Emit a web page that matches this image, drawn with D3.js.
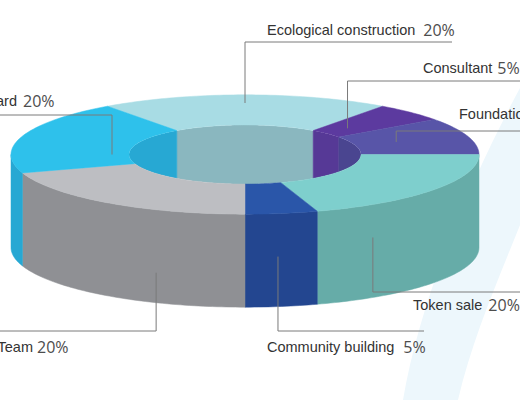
<!DOCTYPE html>
<html lang="en">
  <head>
    <meta charset="UTF-8" />
    <title>Token distribution</title>
    <script src="https://cdn.jsdelivr.net/npm/d3@7/dist/d3.min.js"></script>
    <style>
      html, body { margin: 0; padding: 0; background: #fff; overflow: hidden; }
      .label { font-family: "Liberation Sans", Arial, sans-serif; font-size: 14.5px; fill: #333; }
      .pct { font-family: "Open Sans", sans-serif; font-size: 16px; fill: #4d4d4d; }
      .leader { fill: none; stroke: #7a7a7a; stroke-width: 1; }
    </style>
  </head>
  <body>
    <script>
      // data, clockwise from the top-left seam
      const categories = ["Ecological construction", "Consultant", "Foundation", "Token sale", "Community building", "Team", "Reward"];
      const shares = [20, 5, 10, 20, 5, 20, 20];
      const topColors = ["#a8dce4", "#5c3a9f", "#5855a8", "#7ecfcd", "#2a56a9", "#bdbec2", "#2ec1eb"];
      const sideColors = ["#8ab7bf", "#563996", "#4a4590", "#66aca8", "#234690", "#8f9094", "#27a8d3"];

      const width = 520;
      const height = 400;

      // donut geometry
      const cx = 245;
      const cy = 154.5;
      const outerR = 234;
      const innerR = 116;
      const tilt = 0.255;
      const depth = 93;

      // label layout: where the leader starts inside the slice, where it bends, where text sits
      const layout = [
        { t: 0.5, r: 202, z: 0, bendY: 42, endX: 452, tx: 267, ty: 35, gap: 8, side: "right" },
        { t: 0.5, r: 145, z: 0, bendY: 81, endX: 530, tx: 423, ty: 73, gap: 5, side: "right" },
        { t: 0.5, r: 159, z: 0, bendY: 131, endX: 530, tx: 459, ty: 119, gap: 6, side: "right" },
        { t: 0.79, r: outerR, z: 33, bendY: 292, endX: 530, tx: 413, ty: 310, gap: 6, side: "right" },
        { t: 0.55, r: outerR, z: 43, bendY: 331, endX: 424, tx: 267, ty: 352, gap: 9, side: "right" },
        { t: 0.31, r: outerR, z: 63, bendY: 331, endX: -10, tx: 33, ty: 352, gap: 4, side: "left" },
        { t: 0.25, r: 133, z: 0, bendY: 115, endX: -10, tx: 17, ty: 106, gap: 6, side: "left" },
      ];

      const svg = d3
        .select("body")
        .append("svg")
        .attr("width", width)
        .attr("height", height);

      // faint swoosh in the background
      svg
        .append("path")
        .attr("d", "M403,400 C420,300 468,185 520,88 L520,225 C496,285 472,340 458,400 Z")
        .attr("fill", "#edf7fc");

      const pie = d3
        .pie()
        .sort(null)
        .value((d) => d)
        .startAngle(-0.2 * Math.PI)
        .endAngle(1.8 * Math.PI);

      const arcs = pie(shares).map((d, i) => ({ ...d, i }));

      // angle is clockwise from the top, like d3.arc
      function project(a, r, z) {
        return [cx + r * Math.sin(a), cy - r * tilt * Math.cos(a) + z];
      }

      function sample(a0, a1) {
        const n = Math.max(2, Math.ceil(Math.abs(a1 - a0) / 0.02));
        return d3.range(n + 1).map((k) => a0 + ((a1 - a0) * k) / n);
      }

      const line = d3.line();

      function topPath(a0, a1) {
        const pts = sample(a0, a1)
          .map((a) => project(a, outerR, 0))
          .concat(sample(a1, a0).map((a) => project(a, innerR, 0)));
        return line(pts) + "Z";
      }

      function wallPath(a0, a1, r) {
        const pts = sample(a0, a1)
          .map((a) => project(a, r, 0))
          .concat(sample(a1, a0).map((a) => project(a, r, depth)));
        return line(pts) + "Z";
      }

      // clip a slice's angle span to a visible window (checking a full turn either way)
      function clipSpan(a0, a1, lo, hi) {
        const spans = [];
        for (const off of [-2 * Math.PI, 0, 2 * Math.PI]) {
          const s = Math.max(a0, lo + off);
          const e = Math.min(a1, hi + off);
          if (e > s) spans.push([s, e]);
        }
        return spans;
      }

      // clip for the hole
      const hole = line(sample(0, 2 * Math.PI).map((a) => project(a, innerR, 0))) + "Z";
      svg.append("defs").append("clipPath").attr("id", "hole").append("path").attr("d", hole);

      // far inner wall, seen through the hole
      const inner = svg.append("g").attr("clip-path", "url(#hole)");
      arcs.forEach((d) => {
        clipSpan(d.startAngle, d.endAngle, -Math.PI / 2, Math.PI / 2).forEach(([s, e]) => {
          inner
            .append("path")
            .attr("d", wallPath(s, e, innerR))
            .attr("fill", sideColors[d.i])
            .attr("stroke", sideColors[d.i])
            .attr("stroke-width", 0.5);
        });
      });

      // front outer wall
      const walls = svg.append("g");
      arcs.forEach((d) => {
        clipSpan(d.startAngle, d.endAngle, Math.PI / 2, (3 * Math.PI) / 2).forEach(([s, e]) => {
          walls
            .append("path")
            .attr("d", wallPath(s, e, outerR))
            .attr("fill", sideColors[d.i])
            .attr("stroke", sideColors[d.i])
            .attr("stroke-width", 0.5);
        });
      });

      // top faces
      svg
        .append("g")
        .selectAll("path")
        .data(arcs)
        .join("path")
        .attr("d", (d) => topPath(d.startAngle, d.endAngle))
        .attr("fill", (d) => topColors[d.i])
        .attr("stroke", (d) => topColors[d.i])
        .attr("stroke-width", 0.5);

      // leader lines and labels
      const labels = svg.append("g");
      arcs.forEach((d) => {
        const l = layout[d.i];
        const a = d.startAngle + l.t * (d.endAngle - d.startAngle);
        const [ax, ay] = project(a, l.r, l.z);
        labels
          .append("path")
          .classed("leader", true)
          .attr("d", line([[ax, ay], [ax, l.bendY], [l.endX, l.bendY]]));

        const name = labels
          .append("text")
          .classed("label", true)
          .attr("x", l.tx)
          .attr("y", l.ty)
          .attr("text-anchor", l.side === "left" ? "end" : "start")
          .text(categories[d.i]);

        const nameEnd = l.side === "left" ? l.tx : l.tx + name.node().getComputedTextLength();
        labels
          .append("text")
          .classed("pct", true)
          .attr("x", nameEnd + l.gap)
          .attr("y", l.ty + 1)
          .text(`${d.data}%`);
      });
    </script>
  </body>
</html>
